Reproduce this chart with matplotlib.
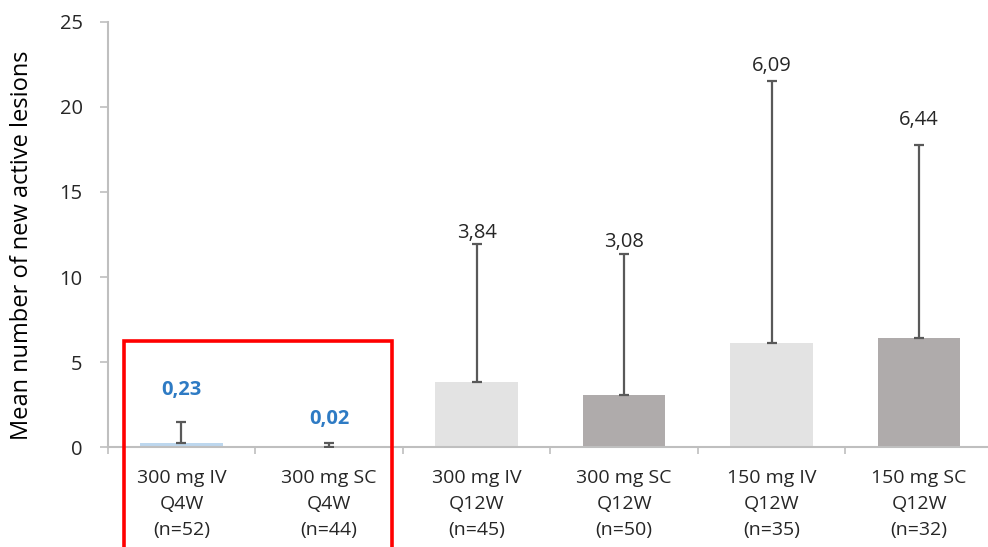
import matplotlib
matplotlib.use("Agg")
import matplotlib.pyplot as plt
from matplotlib.patches import Rectangle
import numpy as np

plt.rcParams['font.family'] = ['Open Sans', 'DejaVu Sans']

# Treatment arms and their results
categories = ["300 mg IV\nQ4W\n(n=52)", "300 mg SC\nQ4W\n(n=44)",
              "300 mg IV\nQ12W\n(n=45)", "300 mg SC\nQ12W\n(n=50)",
              "150 mg IV\nQ12W\n(n=35)", "150 mg SC\nQ12W\n(n=32)"]
means = [0.23, 0.02, 3.84, 3.08, 6.09, 6.44]
sd_upper = [1.25, 0.23, 8.10, 8.25, 15.45, 11.30]
value_labels = ["0,23", "0,02", "3,84", "3,08", "6,09", "6,44"]
y_ticks = [0, 5, 10, 15, 20, 25]

bar_colors = ["#BDD7EE", "#9DC3E6", "#E3E3E3", "#AFABAB", "#E3E3E3", "#AFABAB"]
label_colors = ["#2E7BC4", "#2E7BC4", "#262626", "#262626", "#262626", "#262626"]
label_weights = ["bold", "bold", "normal", "normal", "normal", "normal"]
label_offsets = [23, 17, 8, 9, 11, 18]

fig = plt.figure(figsize=(9.88, 5.47), dpi=100)
ax = fig.add_axes([0.109, 0.1828, 0.896, 0.777])

x = np.arange(len(categories))
ax.bar(x, means, width=0.56, color=bar_colors, zorder=2)
ax.errorbar(x, means, yerr=[np.zeros(len(means)), sd_upper], fmt="none",
            ecolor="#595959", elinewidth=1.6, capsize=3.5, capthick=1.6, zorder=3)

for xi, m, s, lab, c, w, off in zip(x, means, sd_upper, value_labels,
                                   label_colors, label_weights, label_offsets):
    ax.annotate(lab, (xi, m + s), xytext=(0, off), textcoords="offset points",
                ha="center", va="center", fontsize=14.5, color=c, fontweight=w)

ax.set_xlim(-0.5, len(categories) - 0.5)
ax.set_ylim(0, 25)
ax.set_yticks(y_ticks)
ax.set_yticklabels([str(t) for t in y_ticks], fontsize=14.5, color="#262626")
ax.set_xticks(x)
ax.set_xticklabels(categories, fontsize=14, color="#262626", linespacing=1.55)
ax.set_xticks(np.arange(len(categories) + 1) - 0.5, minor=True)
ax.tick_params(axis="x", which="major", length=0, pad=16)
ax.tick_params(axis="x", which="minor", length=5, color="#BFBFBF", width=1.2)
ax.tick_params(axis="y", length=6, color="#BFBFBF", width=1.2, pad=12)

for side in ["top", "right"]:
    ax.spines[side].set_visible(False)
for side in ["left", "bottom"]:
    ax.spines[side].set_color("#BFBFBF")
    ax.spines[side].set_linewidth(1.5)

ax.set_ylabel("Mean number of new active lesions", fontsize=17, color="#000000")
ax.yaxis.set_label_coords(-0.083, 0.475)

# Highlight box around the Q4W arms
ax.add_patch(Rectangle((-0.39, -12.0), 1.82, 18.24, fill=False, edgecolor="#FF0000",
                       linewidth=2.6, clip_on=False, zorder=5))

fig.savefig("out.png", dpi=100)
